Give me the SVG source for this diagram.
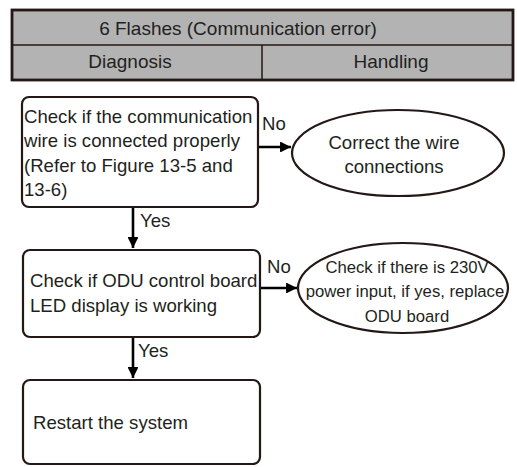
<svg xmlns="http://www.w3.org/2000/svg" width="517" height="467" viewBox="0 0 517 467">
<style>
text{font-family:"Liberation Sans",Arial,sans-serif;fill:#231f20;font-size:18.6px}
.hdr{font-size:19px}
.sm{font-size:16.7px}
.box{fill:#fff;stroke:#231815;stroke-width:2.2}
.ln{stroke:#000;stroke-width:2.6;fill:none}
.c{text-anchor:middle}
</style>
<defs>
<marker id="ah" viewBox="0 0 10 10" refX="10" refY="5" markerWidth="5" markerHeight="4.2" markerUnits="strokeWidth" orient="auto">
<path d="M0,0 L10,5 L0,10 Z" fill="#000"/>
</marker>
</defs>
<g id="header">
<rect x="12" y="10" width="501" height="70" fill="#b3b3b3" stroke="#231815" stroke-width="2.8"/>
<line x1="12" y1="45" x2="513" y2="45" stroke="#231815" stroke-width="1.5"/>
<line x1="262" y1="45" x2="262" y2="80" stroke="#231815" stroke-width="1.5"/>
<text class="hdr c" x="238" y="35">6 Flashes (Communication error)</text>
<text class="hdr c" x="130" y="68">Diagnosis</text>
<text class="hdr c" x="391" y="68">Handling</text>
</g>
<g id="connectors">
<line class="ln" x1="258" y1="147" x2="291" y2="147" marker-end="url(#ah)"/>
<line class="ln" x1="133" y1="207" x2="133" y2="248" marker-end="url(#ah)"/>
<line class="ln" x1="260" y1="288" x2="297" y2="288" marker-end="url(#ah)"/>
<line class="ln" x1="133" y1="337" x2="133" y2="378" marker-end="url(#ah)"/>
<text x="262" y="130">No</text>
<text x="140" y="227">Yes</text>
<text x="267" y="273">No</text>
<text x="138" y="357">Yes</text>
</g>
<g id="n1">
<rect class="box" x="22" y="97" width="236" height="110" rx="7"/>
<text x="24" y="123">Check if the communication</text>
<text x="24" y="147">wire is connected properly</text>
<text x="24" y="172">(Refer to Figure 13-5 and</text>
<text x="24" y="196">13-6)</text>
</g>
<g id="n2">
<ellipse class="box" cx="398" cy="153" rx="106" ry="43"/>
<text class="c" x="394" y="149">Correct the wire</text>
<text class="c" x="394" y="173">connections</text>
</g>
<g id="n3">
<rect class="box" x="23" y="250" width="237" height="87" rx="7"/>
<text x="30" y="287">Check if ODU control board</text>
<text x="30" y="312">LED display is working</text>
</g>
<g id="n4">
<ellipse class="box" cx="403" cy="288" rx="105" ry="45"/>
<text class="c sm" x="407" y="273">Check if there is 230V</text>
<text class="c sm" x="405" y="297">power input, if yes, replace</text>
<text class="c sm" x="407" y="322">ODU board</text>
</g>
<g id="n5">
<rect class="box" x="23" y="380" width="237" height="84" rx="7"/>
<text x="33" y="429">Restart the system</text>
</g>
</svg>
